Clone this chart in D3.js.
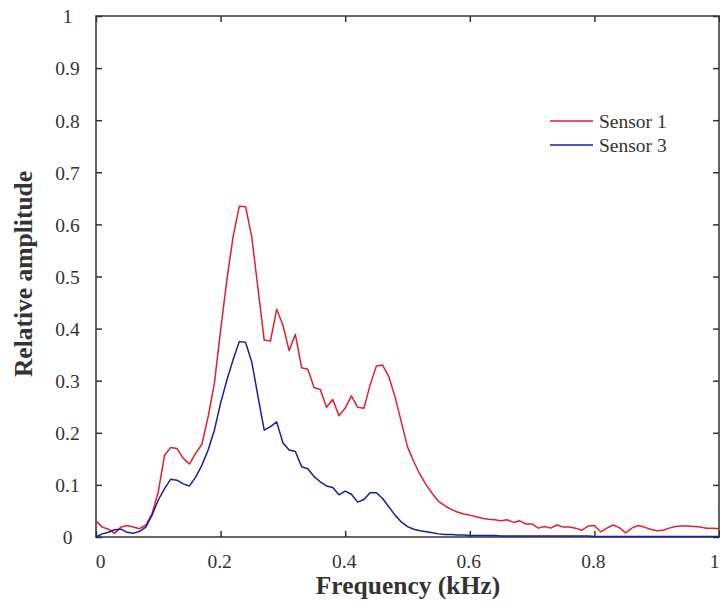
<!DOCTYPE html>
<html>
<head>
<meta charset="utf-8">
<script src="https://cdn.jsdelivr.net/npm/d3@7"></script>
<style>
  html, body { margin: 0; padding: 0; background: #fff; }
  svg { display: block; }
  text { font-family: "Liberation Serif", "Times New Roman", serif; fill: #333; }
</style>
</head>
<body>
<svg id="chart" width="720" height="604"></svg>
<script>
// Frequency (kHz), 0 to 1 in 0.01 steps
const frequency = [
  0.00,0.01,0.02,0.03,0.04,0.05,0.06,0.07,0.08,0.09,
  0.10,0.11,0.12,0.13,0.14,0.15,0.16,0.17,0.18,0.19,
  0.20,0.21,0.22,0.23,0.24,0.25,0.26,0.27,0.28,0.29,
  0.30,0.31,0.32,0.33,0.34,0.35,0.36,0.37,0.38,0.39,
  0.40,0.41,0.42,0.43,0.44,0.45,0.46,0.47,0.48,0.49,
  0.50,0.51,0.52,0.53,0.54,0.55,0.56,0.57,0.58,0.59,
  0.60,0.61,0.62,0.63,0.64,0.65,0.66,0.67,0.68,0.69,
  0.70,0.71,0.72,0.73,0.74,0.75,0.76,0.77,0.78,0.79,
  0.80,0.81,0.82,0.83,0.84,0.85,0.86,0.87,0.88,0.89,
  0.90,0.91,0.92,0.93,0.94,0.95,0.96,0.97,0.98,0.99,
  1.00
];
const sensor1 = [
  0.031,0.019,0.015,0.007,0.019,0.022,0.019,0.016,0.023,0.045,
  0.087,0.157,0.172,0.170,0.151,0.140,0.161,0.178,0.231,0.295,
  0.397,0.493,0.576,0.635,0.634,0.576,0.477,0.378,0.376,0.437,
  0.407,0.358,0.389,0.325,0.322,0.287,0.283,0.249,0.264,0.233,
  0.247,0.271,0.249,0.247,0.292,0.328,0.330,0.308,0.269,0.221,
  0.173,0.145,0.120,0.100,0.083,0.068,0.060,0.053,0.048,0.044,
  0.042,0.039,0.036,0.034,0.033,0.031,0.033,0.028,0.031,0.025,
  0.025,0.017,0.020,0.017,0.023,0.019,0.019,0.017,0.013,0.021,
  0.022,0.010,0.017,0.023,0.018,0.008,0.017,0.022,0.019,0.015,
  0.012,0.013,0.017,0.020,0.021,0.021,0.020,0.019,0.017,0.017,
  0.016
];
const sensor3 = [
  0.000,0.006,0.009,0.014,0.015,0.009,0.007,0.011,0.019,0.042,
  0.071,0.093,0.111,0.109,0.102,0.098,0.115,0.138,0.167,0.205,
  0.257,0.301,0.340,0.375,0.374,0.336,0.270,0.205,0.212,0.221,
  0.181,0.167,0.164,0.135,0.131,0.116,0.106,0.098,0.095,0.081,
  0.088,0.082,0.067,0.072,0.085,0.085,0.074,0.058,0.042,0.029,
  0.020,0.015,0.012,0.010,0.008,0.006,0.005,0.005,0.004,0.004,
  0.003,0.003,0.003,0.003,0.003,0.002,0.002,0.002,0.002,0.002,
  0.002,0.002,0.002,0.002,0.002,0.002,0.002,0.002,0.002,0.002,
  0.001,0.001,0.001,0.001,0.001,0.001,0.001,0.001,0.001,0.001,
  0.001,0.001,0.001,0.001,0.001,0.001,0.001,0.001,0.001,0.001,
  0.001
];
const seriesNames = ["Sensor 1", "Sensor 3"];
const xTicks = [0, 0.2, 0.4, 0.6, 0.8, 1];
const yTicks = [0, 0.1, 0.2, 0.3, 0.4, 0.5, 0.6, 0.7, 0.8, 0.9, 1];
const xTitle = "Frequency (kHz)";
const yTitle = "Relative amplitude";

const colors = ["#e0202e", "#1c1ca0"];
const axisColor = "#333";

const svg = d3.select("#chart");
const pLeft = 96, pRight = 719, pTop = 16, pBottom = 537;

const x = d3.scaleLinear().domain([0, 1]).range([pLeft, pRight]);
const y = d3.scaleLinear().domain([0, 1]).range([pBottom, pTop]);

const fmt = d => d === 0 ? "0" : d === 1 ? "1" : d3.format(".1f")(d);

function styleAxis(g) {
  g.select(".domain").remove();
  g.selectAll(".tick line").attr("stroke", axisColor).attr("stroke-width", 1.5);
}

// bottom axis (ticks inward)
const gx = svg.append("g").attr("transform", `translate(0,${pBottom})`)
  .call(d3.axisBottom(x).tickValues(xTicks).tickSize(-6).tickPadding(0).tickFormat(fmt));
styleAxis(gx);
gx.selectAll(".tick text")
  .attr("y", 31).attr("dy", 0)
  .attr("font-size", "19.5px").attr("font-family", "Liberation Serif").attr("fill", "#333")
  .attr("dx", d => d === 0 ? 4 : d === 1 ? 0 : -1.5)
  .attr("text-anchor", d => d === 1 ? "end" : "middle");

// top axis ticks
const gxt = svg.append("g").attr("transform", `translate(0,${pTop})`)
  .call(d3.axisTop(x).tickValues(xTicks).tickSize(-6).tickFormat(""));
styleAxis(gxt);

// left axis
const gy = svg.append("g").attr("transform", `translate(${pLeft},0)`)
  .call(d3.axisLeft(y).tickValues(yTicks).tickSize(-6).tickFormat(fmt));
styleAxis(gy);
gy.selectAll(".tick text")
  .attr("x", 67.5 - pLeft).attr("dy", "0.35em").attr("text-anchor", "middle")
  .attr("font-size", "19.5px").attr("font-family", "Liberation Serif").attr("fill", "#333");

// right axis ticks
const gyr = svg.append("g").attr("transform", `translate(${pRight},0)`)
  .call(d3.axisRight(y).tickValues(yTicks).tickSize(-6).tickFormat(""));
styleAxis(gyr);

// frame
svg.append("rect")
  .attr("x", pLeft).attr("y", pTop)
  .attr("width", pRight - pLeft).attr("height", pBottom - pTop)
  .attr("fill", "none").attr("stroke", axisColor).attr("stroke-width", 1.5);

// lines
const data = [sensor1, sensor3];
const line = d3.line().x((d, i) => x(frequency[i])).y(d => y(d));
data.forEach((s, k) => {
  svg.append("path")
    .datum(s)
    .attr("d", line)
    .attr("fill", "none")
    .attr("stroke", colors[k])
    .attr("stroke-width", 1.5)
    .attr("stroke-linejoin", "round");
});

// legend
const legendY = [121, 145];
seriesNames.forEach((n, k) => {
  svg.append("line")
    .attr("x1", 550).attr("x2", 593)
    .attr("y1", legendY[k]).attr("y2", legendY[k])
    .attr("stroke", colors[k]).attr("stroke-width", 1.5);
  svg.append("text")
    .attr("x", 599).attr("y", legendY[k]).attr("dy", "0.35em")
    .attr("font-size", "19.5px")
    .text(n);
});

// axis titles
svg.append("text")
  .attr("x", 408).attr("y", 594)
  .attr("text-anchor", "middle")
  .attr("font-size", "25.5px").attr("font-weight", "bold")
  .text(xTitle);

svg.append("text")
  .attr("transform", `translate(32,274) rotate(-90)`)
  .attr("text-anchor", "middle")
  .attr("font-size", "25.5px").attr("font-weight", "bold")
  .text(yTitle);
</script>
</body>
</html>
